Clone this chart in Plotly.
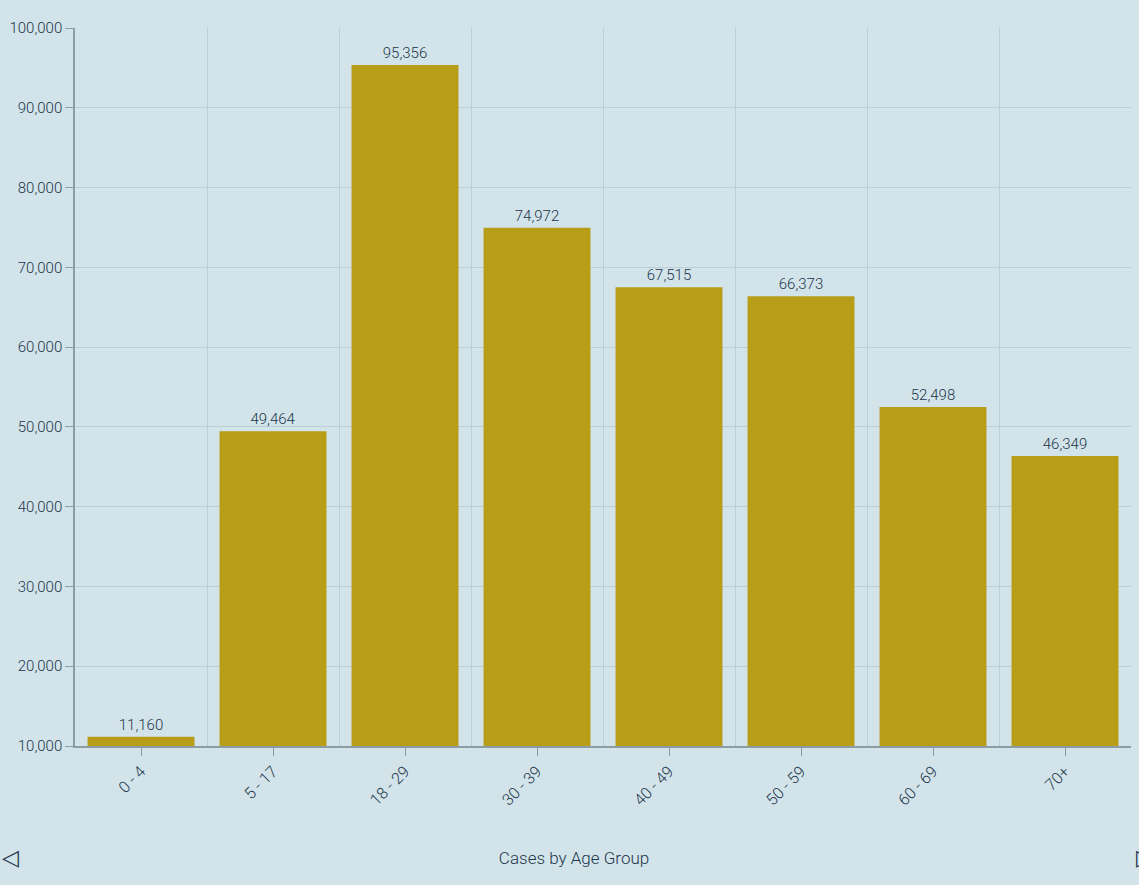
import plotly.graph_objects as go

age_groups = ["0 - 4", "5 - 17", "18 - 29", "30 - 39", "40 - 49", "50 - 59", "60 - 69", "70+"]
cases = [11160, 49464, 95356, 74972, 67515, 66373, 52498, 46349]

BG = "#d2e4ea"
BAR = "#b89d19"
TEXT = "#22364b"
GRID = "#bccfd6"
AXIS = "#8c9ca3"
FONT = "Roboto, sans-serif"

positions = list(range(len(age_groups)))

fig = go.Figure(
    go.Bar(
        x=positions,
        y=cases,
        marker_color=BAR,
        marker_line_width=0,
        texttemplate="%{y:,}",
        textposition="outside",
        textfont=dict(size=15, color=TEXT, family=FONT, weight=300),
        constraintext="none",
        cliponaxis=False,
        hoverinfo="skip",
    )
)

fig.update_layout(
    width=1139,
    height=885,
    paper_bgcolor=BG,
    plot_bgcolor=BG,
    margin=dict(l=75, r=8, t=28, b=139),
    bargap=0.19,
    font=dict(family=FONT, color=TEXT, size=15, weight=300),
    showlegend=False,
    title=dict(
        text="Cases by Age Group",
        x=0.504,
        xanchor="center",
        yref="container",
        y=0.03,
        yanchor="middle",
        font=dict(size=17, color=TEXT, family=FONT, weight=300),
    ),
    annotations=[
        dict(text="◁", xref="paper", yref="paper", x=-0.071, y=-0.176,
             xanchor="left", showarrow=False, font=dict(size=22, color=TEXT, weight=300)),
        dict(text="▷", xref="paper", yref="paper", x=1.003, y=-0.176,
             showarrow=False, xanchor="left", font=dict(size=22, color=TEXT, weight=300)),
    ],
)

fig.update_xaxes(
    range=[-0.5, len(age_groups) - 0.5],
    tickvals=positions,
    ticktext=age_groups,
    tickangle=-45,
    ticks="outside",
    ticklen=8,
    tickcolor=AXIS,
    showgrid=False,
    minor=dict(tick0=0.5, dtick=1, showgrid=True, gridcolor=GRID, ticks=""),
    showline=True,
    linecolor=AXIS,
    linewidth=1.5,
    zeroline=False,
    tickfont=dict(size=16, color=TEXT, weight=300),
)

fig.update_yaxes(
    range=[10000, 100000],
    dtick=10000,
    tickformat=",",
    ticks="outside",
    ticklen=8,
    tickcolor=AXIS,
    showgrid=True,
    gridcolor=GRID,
    showline=True,
    linecolor=AXIS,
    linewidth=1.5,
    zeroline=False,
    tickfont=dict(size=15, color=TEXT, weight=300),
)

fig.write_html(
    "out.html",
    config={"displayModeBar": False},
    post_script="document.body.style.margin='0';",
)
